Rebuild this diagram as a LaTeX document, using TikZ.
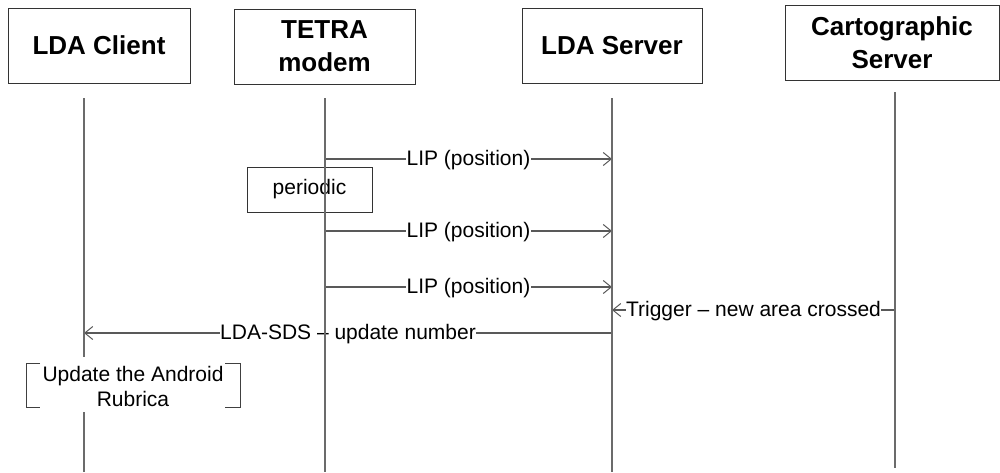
\documentclass[tikz,border=0pt]{standalone}
\usepackage{fontspec}
\setmainfont{Liberation Sans}
\usetikzlibrary{arrows.meta,calc}

\tikzset{
  head/.style={draw=black!80, line width=1pt, fill=white, minimum height=75pt,
    align=center, inner sep=2pt, font=\fontsize{26}{33}\selectfont\bfseries},
  life/.style={draw=black!58, line width=1.5pt},
  msg/.style={draw=black!65, line width=1.2pt,
    -{Straight Barb[length=8pt,width=13pt,line width=1pt]}},
  lbl/.style={fill=white, inner sep=0.5pt, yshift=-1.5pt, text=black, font=\fontsize{21}{25}\selectfont},
  note/.style={draw=black!80, line width=1pt, align=center, font=\fontsize{21}{25}\selectfont},
  brk/.style={draw=black!75, line width=1pt},
}

\begin{document}
\begin{tikzpicture}[x=1pt, y=-1pt]
\useasboundingbox (0,0) rectangle (1000,472);

% participants
\node[head, minimum width=182pt] (client) at (99,45.5) {LDA Client};
\node[head, minimum width=181pt] (tetra)  at (324.5,46.5) {TETRA\\modem};
\node[head, minimum width=180pt] (server) at (612,45.5) {LDA Server};
\node[head, minimum width=214pt] (carto)  at (892,42.5) {Cartographic\\Server};

% lifeline ends
\coordinate (cT) at (84,98);   \coordinate (cB) at (84,472);
\coordinate (tT) at (325,98);  \coordinate (tB) at (325,472);
\coordinate (sT) at (612,98);  \coordinate (sB) at (612,472);
\coordinate (gT) at (895,92);  \coordinate (gB) at (895,468);

% message end points
\coordinate (t1) at (325,159); \coordinate (s1) at (612,159);
\coordinate (t2) at (325,231); \coordinate (s2) at (612,231);
\coordinate (t3) at (325,287); \coordinate (s3) at (612,287);
\coordinate (g4) at (895,310); \coordinate (s4) at (612,310);
\coordinate (s5) at (612,333); \coordinate (c5) at (84,333);

% periodic note on the modem lifeline
\node[note, minimum width=125pt, minimum height=45pt] (per) at (309.5,189.5) {periodic};

% messages
\draw[msg] (t1) -- node[lbl] {LIP (position)} (s1);
\draw[msg] (t2) -- node[lbl] {LIP (position)} (s2);
\draw[msg] (t3) -- node[lbl] {LIP (position)} (s3);
\draw[msg] (g4) -- node[lbl] {Trigger – new area crossed} (s4);
\draw[msg] (s5) -- node[lbl] {LDA-SDS – update number} (c5);

% lifelines (on top of the message labels)
\draw[life] (cT) -- (cB);
\draw[life] (tT) -- (tB);
\draw[life] (sT) -- (sB);
\draw[life] (gT) -- (gB);

% local action on the client lifeline
\node[fill=white, minimum width=214pt, minimum height=55pt, inner sep=0pt] (upd) at (133,384.5) {};
\node[align=center, font=\fontsize{21}{25}\selectfont] (updtxt) at (133,386)
  {Update the Android\\Rubrica};
\coordinate (bl1) at (26,363); \coordinate (bl2) at (26,407);
\coordinate (br1) at (240,363); \coordinate (br2) at (240,407);
\draw[brk] ($(bl1)+(14,0)$) -- (bl1) -- (bl2) -- ($(bl2)+(14,0)$);
\draw[brk] ($(br1)+(-15,0)$) -- (br1) -- (br2) -- ($(br2)+(-15,0)$);
\end{tikzpicture}
\end{document}
